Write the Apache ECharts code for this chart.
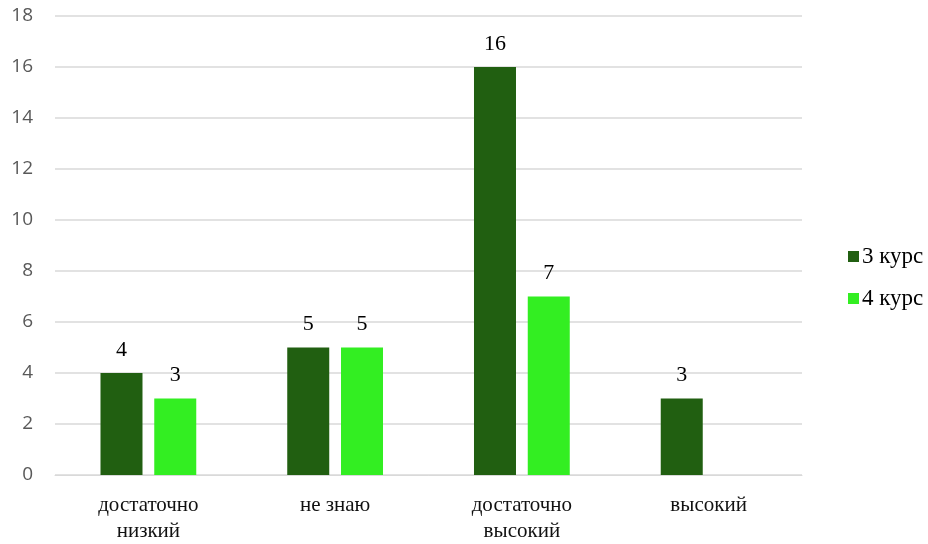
<!DOCTYPE html>
<html><head><meta charset="utf-8">
<script src="https://cdn.jsdelivr.net/npm/echarts@6/dist/echarts.min.js"></script>
<style>html,body{margin:0;padding:0;background:#fff}#c{width:928px;height:544px}</style>
</head><body><div id="c"></div>
<script>
const categories = ["достаточно\nнизкий", "не знаю", "достаточно\nвысокий", "высокий"];
const seriesNames = ["3 курс", "4 курс"];
const course3 = [4, 5, 16, 3];
const course4 = [3, 5, 7, null];
const yTicks = {min: 0, max: 18, interval: 2};

const chart = echarts.init(document.getElementById('c'));
const labelStyle = {show: true, position: 'top', distance: 12, fontFamily: 'Liberation Serif', fontSize: 22, color: '#000'};
chart.setOption({
  animation: false,
  grid: {left: 55, right: 126, top: 16, bottom: 65},
  legend: {
    orient: 'vertical', left: 843, top: 240,
    itemWidth: 11, itemHeight: 11, itemGap: 19, icon: 'rect',
    textStyle: {fontFamily: 'Liberation Serif', fontSize: 23, color: '#000', padding: [0,0,0,-2]},
    data: seriesNames
  },
  xAxis: {
    type: 'category', data: categories,
    axisLine: {show: true, lineStyle: {color: '#d9d9d9', width: 1}},
    axisTick: {show: false},
    axisLabel: {fontFamily: 'Liberation Serif', fontSize: 21, color: '#111', margin: 17, lineHeight: 26}
  },
  yAxis: {
    type: 'value', min: yTicks.min, max: yTicks.max, interval: yTicks.interval,
    axisLine: {show: false}, axisTick: {show: false},
    splitLine: {lineStyle: {color: '#d9d9d9', width: 1.5}},
    axisLabel: {fontFamily: 'Open Sans', fontSize: 19, color: '#595959', margin: 22}
  },
  series: [
    {name: seriesNames[0], type: 'bar', data: course3, barWidth: 42, barGap: '28%',
     itemStyle: {color: '#215F11'}, label: labelStyle},
    {name: seriesNames[1], type: 'bar', data: course4, barWidth: 42,
     itemStyle: {color: '#33EE22'}, label: labelStyle}
  ]
});
</script></body></html>
